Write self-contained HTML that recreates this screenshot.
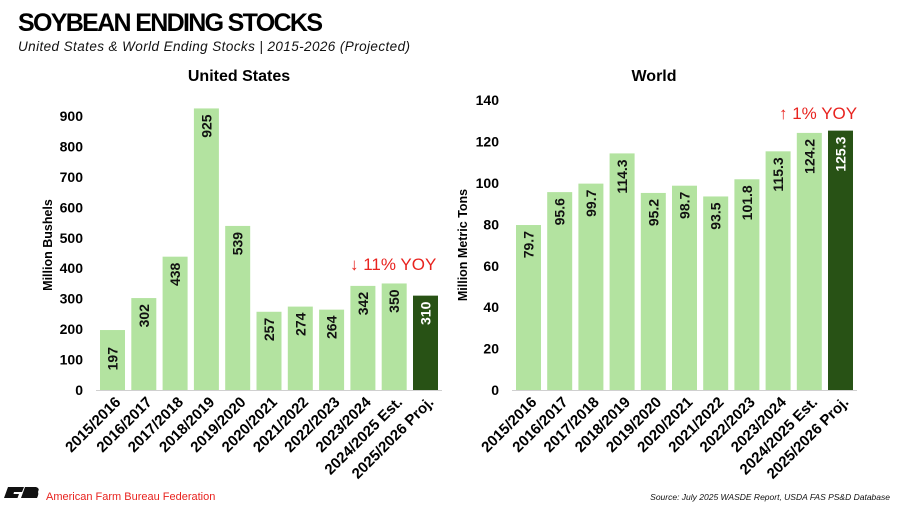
<!DOCTYPE html>
<html><head><meta charset="utf-8"><style>
body{margin:0;background:#fff;font-family:"Liberation Sans",sans-serif;}
#wrap{position:relative;width:900px;height:506px;overflow:hidden;}
</style></head><body>
<div id="wrap">
<svg id="svg" width="900" height="506" xmlns="http://www.w3.org/2000/svg" font-family="Liberation Sans, sans-serif">
<text x="18" y="31" font-size="25" font-weight="bold" fill="#000" textLength="305">SOYBEAN ENDING STOCKS</text>
<text x="18" y="51" font-size="13.5" font-style="italic" fill="#111" textLength="392">United States &amp; World Ending Stocks | 2015-2026 (Projected)</text>
<text x="239" y="81" font-size="16" font-weight="bold" text-anchor="middle">United States</text>
<text x="654" y="81" font-size="16" font-weight="bold" text-anchor="middle">World</text>
<text transform="translate(52,245) rotate(-90)" font-size="12.5" font-weight="bold" text-anchor="middle">Million Bushels</text>
<text transform="translate(467,245) rotate(-90)" font-size="12.5" font-weight="bold" text-anchor="middle">Million Metric Tons</text>
<text x="350" y="270" font-size="17" fill="#e8231f"><tspan font-weight="bold">↓</tspan> 11% YOY</text>
<text x="779" y="119" font-size="17" fill="#e8231f"><tspan font-weight="bold">↑</tspan> 1% YOY</text>
<g><path d="M8 487 L24 487 L22 492 L14 492 L13.5 494 L19 494 L17.5 498 L4 498 Z" fill="#111"/><path d="M25 487 L36 487 Q40 488 38 492 Q39 494 37 498 L21 498 Z" fill="#111"/></g>
<text x="46" y="500" font-size="11" fill="#e8231f">American Farm Bureau Federation</text>
<text x="890" y="500" font-size="8.5" font-style="italic" fill="#111" text-anchor="end">Source: July 2025 WASDE Report, USDA FAS PS&amp;D Database</text>
<g id="us"></g><g id="world"></g>
</svg>
</div>
<script>
const categories=["2015/2016","2016/2017","2017/2018","2018/2019","2019/2020","2020/2021","2021/2022","2022/2023","2023/2024","2024/2025 Est.","2025/2026 Proj."];
const usValues=[197,302,438,925,539,257,274,264,342,350,310];
const worldValues=[79.7,95.6,99.7,114.3,95.2,98.7,93.5,101.8,115.3,124.2,125.3];
const usTicks=[0,100,200,300,400,500,600,700,800,900];
const worldTicks=[0,20,40,60,80,100,120,140];
const NS="http://www.w3.org/2000/svg";
function mk(t,a,p){const e=document.createElementNS(NS,t);for(const k in a)e.setAttribute(k,a[k]);p.appendChild(e);return e;}
function draw(g,vals,ticks,cfg,prefix){
  const y=v=>cfg.base-v*cfg.scale;
  const x=i=>cfg.x0+i*cfg.step;
  ticks.forEach(t=>{const e=mk('text',{x:cfg.tickX,y:y(t)+5,'font-size':14,'font-weight':'bold','text-anchor':'end'},g);
    
    
    e.textContent=t;});
  vals.forEach((v,i)=>{const last=i===vals.length-1;
    const r=mk('rect',{x:x(i),y:y(v),width:cfg.bw,height:cfg.base-y(v),fill:last?'#285215':'#b3e3a0'},g);
    
    
    const cx=x(i)+cfg.bw/2, h=cfg.base-y(v);
    const top=h<75?y(v)+h/2-13:y(v)+6;
    const l=mk('text',{transform:`translate(${cx+5},${top}) rotate(-90)`,'font-size':14,'font-weight':'bold','text-anchor':'end',fill:last?'#fff':'#111'},g);
    
    
    l.textContent=v;
    const c=mk('text',{transform:`translate(${cx+9},${cfg.base+13}) rotate(-45)`,'font-size':15,'font-weight':'bold','text-anchor':'end'},g);
    
    
    c.textContent=categories[i];});
  const ax=mk('line',{x1:cfg.x0-4,x2:x(vals.length-1)+cfg.bw+4,y1:cfg.base+0.5,y2:cfg.base+0.5,stroke:'#d0d0d0','stroke-width':1},g);
  
  
}
draw(document.getElementById('us'),usValues,usTicks,{base:390,scale:0.3044,x0:100,step:31.3,bw:25,tickX:83},'us');
draw(document.getElementById('world'),worldValues,worldTicks,{base:390,scale:2.07,x0:516,step:31.2,bw:25,tickX:499},'world');
</script>
</body></html>
